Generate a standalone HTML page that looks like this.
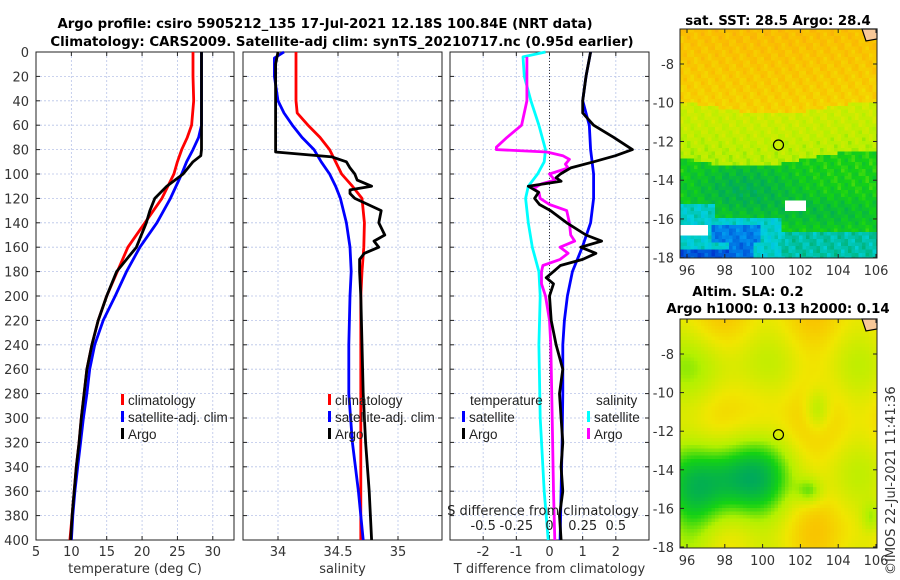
<!DOCTYPE html>
<html><head><meta charset="utf-8"><style>
body{margin:0;background:#fff;}
svg{display:block;font-family:"DejaVu Sans","Liberation Sans",sans-serif;}
.lg{font-family:"Liberation Sans",sans-serif;}
</style></head><body>
<svg id="s" width="900" height="580">
<text x="325" y="28" text-anchor="middle" font-weight="bold" font-size="13.3">Argo profile: csiro 5905212_135 17-Jul-2021 12.18S 100.84E (NRT data)</text>
<text x="342" y="46" text-anchor="middle" font-weight="bold" font-size="13.3">Climatology: CARS2009. Satellite-adj clim: synTS_20210717.nc (0.95d earlier)</text>
<text x="778" y="25" text-anchor="middle" font-weight="bold" font-size="13.3">sat. SST: 28.5 Argo: 28.4</text>
<text x="748" y="296" text-anchor="middle" font-weight="bold" font-size="13.3">Altim. SLA: 0.2</text>
<text x="778" y="313" text-anchor="middle" font-weight="bold" font-size="13.3">Argo h1000: 0.13 h2000: 0.14</text>
<text transform="translate(895,575) rotate(-90)" font-size="13" fill="#333">©IMOS 22-Jul-2021 11:41:36</text>
<g id="g"></g>
</svg>
<script>
const tempDepth=[0,20,40,60,70,80,90,100,120,140,160,180,200,220,240,260,280,300,320,340,360,380,400];
const tempClim=[27.2,27.2,27.3,27.0,26.4,25.6,25.0,24.5,22.8,20.4,18.0,16.5,15.0,13.8,12.9,12.2,11.8,11.4,11.1,10.7,10.4,10.1,9.8];
const tempSat=[28.4,28.4,28.4,28.4,28.0,27.2,26.3,25.6,24.0,22.1,19.7,17.8,16.2,14.5,13.3,12.6,12.2,11.7,11.3,10.9,10.5,10.2,10.0];
const argoTDepth=[0,20,40,60,80,85,90,100,110,120,130,140,160,180,200,220,240,260,280,300,320,340,360,380,400];
const tempArgo=[28.4,28.4,28.4,28.4,28.4,28.3,27.2,25.8,23.5,21.8,21.1,20.6,19.2,16.4,15.0,13.8,12.9,12.2,11.8,11.4,11.1,10.7,10.4,10.1,9.9];
const salDepth=[0,5,20,40,50,60,70,80,90,100,110,120,140,160,180,200,240,280,320,360,400];
const salClim=[34.15,34.15,34.15,34.15,34.16,34.25,34.35,34.43,34.48,34.53,34.62,34.70,34.72,34.715,34.70,34.69,34.69,34.69,34.69,34.69,34.69];
const salSat=[34.05,33.97,33.97,34.0,34.05,34.12,34.2,34.3,34.36,34.43,34.48,34.52,34.57,34.6,34.61,34.6,34.59,34.59,34.62,34.67,34.71];
const salArgoDepth=[0,10,82,86,90,95,100,105,110,113,116,120,125,130,140,150,155,160,165,170,180,200,240,280,320,360,400];
const salArgo=[34.0,33.98,33.98,34.45,34.57,34.6,34.64,34.66,34.78,34.6,34.6,34.64,34.75,34.86,34.84,34.89,34.8,34.84,34.72,34.68,34.68,34.69,34.7,34.71,34.73,34.76,34.78];
const tdSatDepth=[0,20,40,60,80,100,120,140,160,180,200,220,240,280,320,360,400];
const tdSat=[1.24,1.1,1.0,1.2,1.24,1.33,1.33,1.24,0.99,0.69,0.54,0.45,0.4,0.4,0.38,0.35,0.32];
const tdArgoDepth=[0,20,40,50,60,70,80,85,90,95,100,103,106,110,115,120,125,130,140,150,155,160,165,170,175,180,185,190,200,220,240,260,280,300,320,340,360,380,400];
const tdArgo=[1.24,1.1,1.0,1.0,1.33,1.94,2.5,1.99,1.33,0.64,0.33,0.2,0.35,-0.64,-0.33,-0.45,-0.3,0.03,0.52,1.1,1.57,0.94,1.4,1.0,0.33,0.12,-0.1,0.12,0.0,0.05,0.2,0.4,0.3,0.35,0.4,0.35,0.4,0.3,0.35];
const sdSatDepth=[0,4,20,40,60,80,90,100,110,120,140,160,180,200,240,300,360,400];
const sdSat=[-0.03,-0.2,-0.19,-0.14,-0.08,-0.03,-0.04,-0.09,-0.16,-0.18,-0.16,-0.13,-0.08,-0.07,-0.08,-0.07,-0.04,-0.01];
const sdArgoDepth=[4,20,40,60,70,78,80,82,85,88,92,95,100,105,108,112,115,120,125,130,140,150,155,160,165,170,175,180,190,200,220,240,300,360,400];
const sdArgo=[-0.17,-0.17,-0.17,-0.21,-0.32,-0.4,-0.4,-0.02,0.1,0.15,0.12,0.14,0.0,0.04,-0.06,-0.12,-0.08,-0.07,0.0,0.13,0.15,0.16,0.19,0.08,0.14,0.08,-0.05,-0.06,-0.06,-0.03,0.0,0.01,0.02,0.03,0.04];
const depthTicks=[0,20,40,60,80,100,120,140,160,180,200,220,240,260,280,300,320,340,360,380,400];
const tempTicks=[5,10,15,20,25,30];
const salTicks=[34,34.5,35];
const tdTicks=[-2,-1,0,1,2];
const sdTicks=[-0.5,-0.25,0,0.25,0.5];
const sdTickLabels=["-0.5","-0.25","0","0.25","0.5"];
const latTicks=[-8,-10,-12,-14,-16,-18];
const lonTicks=[96,98,100,102,104,106];

const NS="http://www.w3.org/2000/svg";
const G=document.getElementById('g');
function mk(t,a,p){const e=document.createElementNS(NS,t);for(const k in a)e.setAttribute(k,a[k]);(p||G).appendChild(e);return e;}
const Y0=52,Y1=540;
const y=d=>Y0+(d/400)*(Y1-Y0);
function lin(d0,d1,r0,r1){return v=>r0+(v-d0)/(d1-d0)*(r1-r0);}
const panels=[{x0:36,x1:234,sx:lin(5,33,36,234),ticks:tempTicks,lab:"temperature (deg C)",name:"temperature"},
{x0:243,x1:442,sx:lin(33.7083,35.3667,243,442),ticks:salTicks,lab:"salinity",name:"salinity"},
{x0:450,x1:649,sx:lin(-3,3,450,649),ticks:tdTicks,lab:"T difference from climatology",name:"difference"}];
panels.forEach((p,i)=>{
  p.ticks.forEach(t=>{const l=mk('line',{x1:p.sx(t),x2:p.sx(t),y1:Y0,y2:Y1,stroke:'#b8c4e8','stroke-width':0.8,'stroke-dasharray':'2,2'});
    
    mk('line',{x1:p.sx(t),x2:p.sx(t),y1:Y1,y2:Y1-4,stroke:'#222'});mk('line',{x1:p.sx(t),x2:p.sx(t),y1:Y0,y2:Y0+4,stroke:'#222'});
    if(i<2){const tx=mk('text',{x:p.sx(t),y:556,'text-anchor':'middle','font-size':13,fill:'#333'});tx.textContent=t;
    }
  });
  depthTicks.forEach(d=>{mk('line',{x1:p.x0,x2:p.x1,y1:y(d),y2:y(d),stroke:'#b8c4e8','stroke-width':0.8,'stroke-dasharray':'2,2'});
    mk('line',{x1:p.x0,x2:p.x0+4,y1:y(d),y2:y(d),stroke:'#222'});mk('line',{x1:p.x1,x2:p.x1-4,y1:y(d),y2:y(d),stroke:'#222'});
    if(i==0){const tx=mk('text',{x:29,y:y(d)+5,'text-anchor':'end','font-size':13,fill:'#333'});tx.textContent=d;
    }});
  const r=mk('rect',{x:p.x0,y:Y0,width:p.x1-p.x0,height:Y1-Y0,fill:'none',stroke:'#222','stroke-width':1});
  
  const tl=mk('text',{x:(p.x0+p.x1)/2,y:573,'text-anchor':'middle','font-size':13,fill:'#333'});tl.textContent=p.lab;
  
});
function line(dep,vals,sx,col,name){const d=vals.map((v,k)=>(k?'L':'M')+sx(v).toFixed(1)+','+y(dep[k]).toFixed(1)).join('');
  const e=mk('path',{d:d,fill:'none',stroke:col,'stroke-width':2.8,'stroke-linejoin':'round'});
  }
const P=panels;
line(tempDepth,tempClim,P[0].sx,'#f00','temp-climatology-line');line(tempDepth,tempSat,P[0].sx,'#00f','temp-satellite-line');line(argoTDepth,tempArgo,P[0].sx,'#000','temp-argo-line');
line(salDepth,salClim,P[1].sx,'#f00','sal-climatology-line');line(salDepth,salSat,P[1].sx,'#00f','sal-satellite-line');line(salArgoDepth,salArgo,P[1].sx,'#000','sal-argo-line');
const sdx=v=>P[2].sx(v*4);
mk('line',{x1:P[2].sx(0),x2:P[2].sx(0),y1:Y0,y2:Y1,stroke:'#333','stroke-width':1,'stroke-dasharray':'1,2'});
line(sdSatDepth,sdSat,sdx,'#0ff','sdiff-satellite-line');line(sdArgoDepth,sdArgo,sdx,'#f0f','sdiff-argo-line');
line(tdSatDepth,tdSat,P[2].sx,'#00f','tdiff-satellite-line');line(tdArgoDepth,tdArgo,P[2].sx,'#000','tdiff-argo-line');
tdTicks.forEach(t=>{const tx=mk('text',{x:P[2].sx(t),y:556,'text-anchor':'middle','font-size':13,fill:'#333'});tx.textContent=t;
  });
sdTicks.forEach((t,k)=>{const tx=mk('text',{x:sdx(t),y:530,'text-anchor':'middle','font-size':13,fill:'#222'});tx.textContent=sdTickLabels[k];
  });
{const tx=mk('text',{x:543,y:515,'text-anchor':'middle','font-size':13,fill:'#222'});tx.textContent='S difference from climatology';
 }
function leg(x,yy,col,txt,name){mk('rect',{x:x,y:yy-11,width:3,height:11,fill:col});
  const t=mk('text',{x:x+7,y:yy,'font-size':13.5,fill:'#222','class':'lg'});t.textContent=txt;}
[[121,'t'],[328,'s']].forEach(([x,k])=>{leg(x,405,'#f00','climatology',k+'-legend-climatology');leg(x,422,'#00f','satellite-adj. clim',k+'-legend-satellite');leg(x,439,'#000','Argo',k+'-legend-argo');});
{const t=mk('text',{x:470,y:405,'font-size':13.5,fill:'#222','class':'lg'});t.textContent='temperature';
 const t2=mk('text',{x:596,y:405,'font-size':13.5,fill:'#222','class':'lg'});t2.textContent='salinity';}
leg(462,422,'#00f','satellite','diff-legend-t-satellite');leg(462,439,'#000','Argo','diff-legend-t-argo');
leg(587,422,'#0ff','satellite','diff-legend-s-satellite');leg(587,439,'#f0f','Argo','diff-legend-s-argo');

function col(v){const st=[[0,[0,40,200]],[0.15,[0,150,240]],[0.28,[0,210,220]],[0.4,[0,170,90]],[0.52,[20,210,20]],[0.64,[180,240,0]],[0.78,[240,230,0]],[0.9,[250,190,0]],[1,[250,160,20]]];
  v=Math.max(0,Math.min(1,v));for(let i=1;i<st.length;i++)if(v<=st[i][0]){const a=st[i-1],b=st[i],f=(v-a[0])/(b[0]-a[0]);return 'rgb('+a[1].map((c,j)=>Math.round(c+(b[1][j]-c)*f)).join(',')+')';}}
function g2(lo,la,cx,cy,sx,sy){return Math.exp(-((lo-cx)**2/(2*sx*sx)+(la-cy)**2/(2*sy*sy)));}
function drawMap(top,bot,lat8,lat18,field,cell,name){
  const lon=lin(96,106,687,876), lat=lin(-8,-18,lat8,lat18), ilon=lin(687,876,96,106), ilat=lin(lat8,lat18,-8,-18);
  const grp=mk('g',{});
  for(let py=top;py<bot;py+=cell)for(let px=680;px<877;px+=cell){const v=field(ilon(px+cell/2),ilat(py+cell/2));
    if(v===null)continue;mk('rect',{x:px,y:py,width:Math.min(cell,877-px),height:Math.min(cell,bot-py),fill:col(v)},grp);}
  mk('path',{d:'M862,'+(top)+'L877,'+top+'L877,'+(top+10)+'L866,'+(top+12)+'Z',fill:'#f8c898',stroke:'#000','stroke-width':1.2});
  mk('circle',{cx:lon(100.84),cy:lat(-12.18),r:5,fill:'none',stroke:'#000','stroke-width':1.2});
  mk('rect',{x:680,y:top,width:197,height:bot-top,fill:'none',stroke:'#222'});
  latTicks.forEach(t=>{mk('line',{x1:680,x2:684,y1:lat(t),y2:lat(t),stroke:'#222'});mk('line',{x1:877,x2:873,y1:lat(t),y2:lat(t),stroke:'#222'});
    const tx=mk('text',{x:674,y:lat(t)+5,'text-anchor':'end','font-size':13,fill:'#333'});tx.textContent=t;});
  lonTicks.forEach(t=>{mk('line',{x1:lon(t),x2:lon(t),y1:bot,y2:bot-4,stroke:'#222'});mk('line',{x1:lon(t),x2:lon(t),y1:top,y2:top+4,stroke:'#222'});
    const tx=mk('text',{x:lon(t),y:bot+17,'text-anchor':'middle','font-size':13,fill:'#333'});tx.textContent=t;});
}
function sst(lo,la){
  if(la<-16.3&&la>-16.9&&lo<97.2)return null; if(la>-15.5&&la<-15.1&&lo>101.2&&lo<102.3)return null;
  let v;
  const edge=-10.3-0.3*Math.cos((lo-100.5)*0.6);
  if(la>edge) v=0.84+(la-edge)*0.015;
  else v=0.7+(la-edge)*0.02;
  const g=-12.9-0.4*Math.sin((lo-96)*0.5);
  if(la<g) v=0.52-0.1*g2(lo,la,99,-14.5,2,1)-0.06*g2(lo,la,103.5,-15.7,2.2,0.6);
  if(la<-15.3&&lo<97.5) v=0.3;
  if(la<-16&&lo<101) v=0.29;
  if(la<-16.6&&lo>101) v=0.33;
  if(la<-16.3&&la>-17.3&&lo>97.3&&lo<99.8) v=0.12;
  if(la<-17.5&&lo<98.2) v=0.06;
  if(la<-17.3&&lo>98.2&&lo<99.6) v=0.1;
  return v+0.025*Math.sin(lo*7.3+la*5.1)+0.02*Math.cos(lo*11.1-la*9.7);}
function sla(lo,la){let v=0.78+0.06*Math.sin(lo*1.3)+0.05*Math.cos(la*1.1)+0.05*g2(lo,la,100,-11,0.8,1.5);
  v-=0.32*g2(lo,la,98.8,-14.5,1.8,1.8); v-=0.2*g2(lo,la,96.5,-16,1.2,2); v-=0.2*g2(lo,la,102.9,-10.9,0.5,0.8);
  v-=0.18*g2(lo,la,102.5,-15.1,0.5,0.5); v-=0.15*g2(lo,la,105.8,-16.5,0.4,0.6); v-=0.1*g2(lo,la,97,-9,1.2,1.5); return v;}
drawMap(29,258,64,257.7,sst,3.5,'sst-map');
drawMap(319,548,354,547,sla,3.5,'sla-map');
</script>
</body></html>
